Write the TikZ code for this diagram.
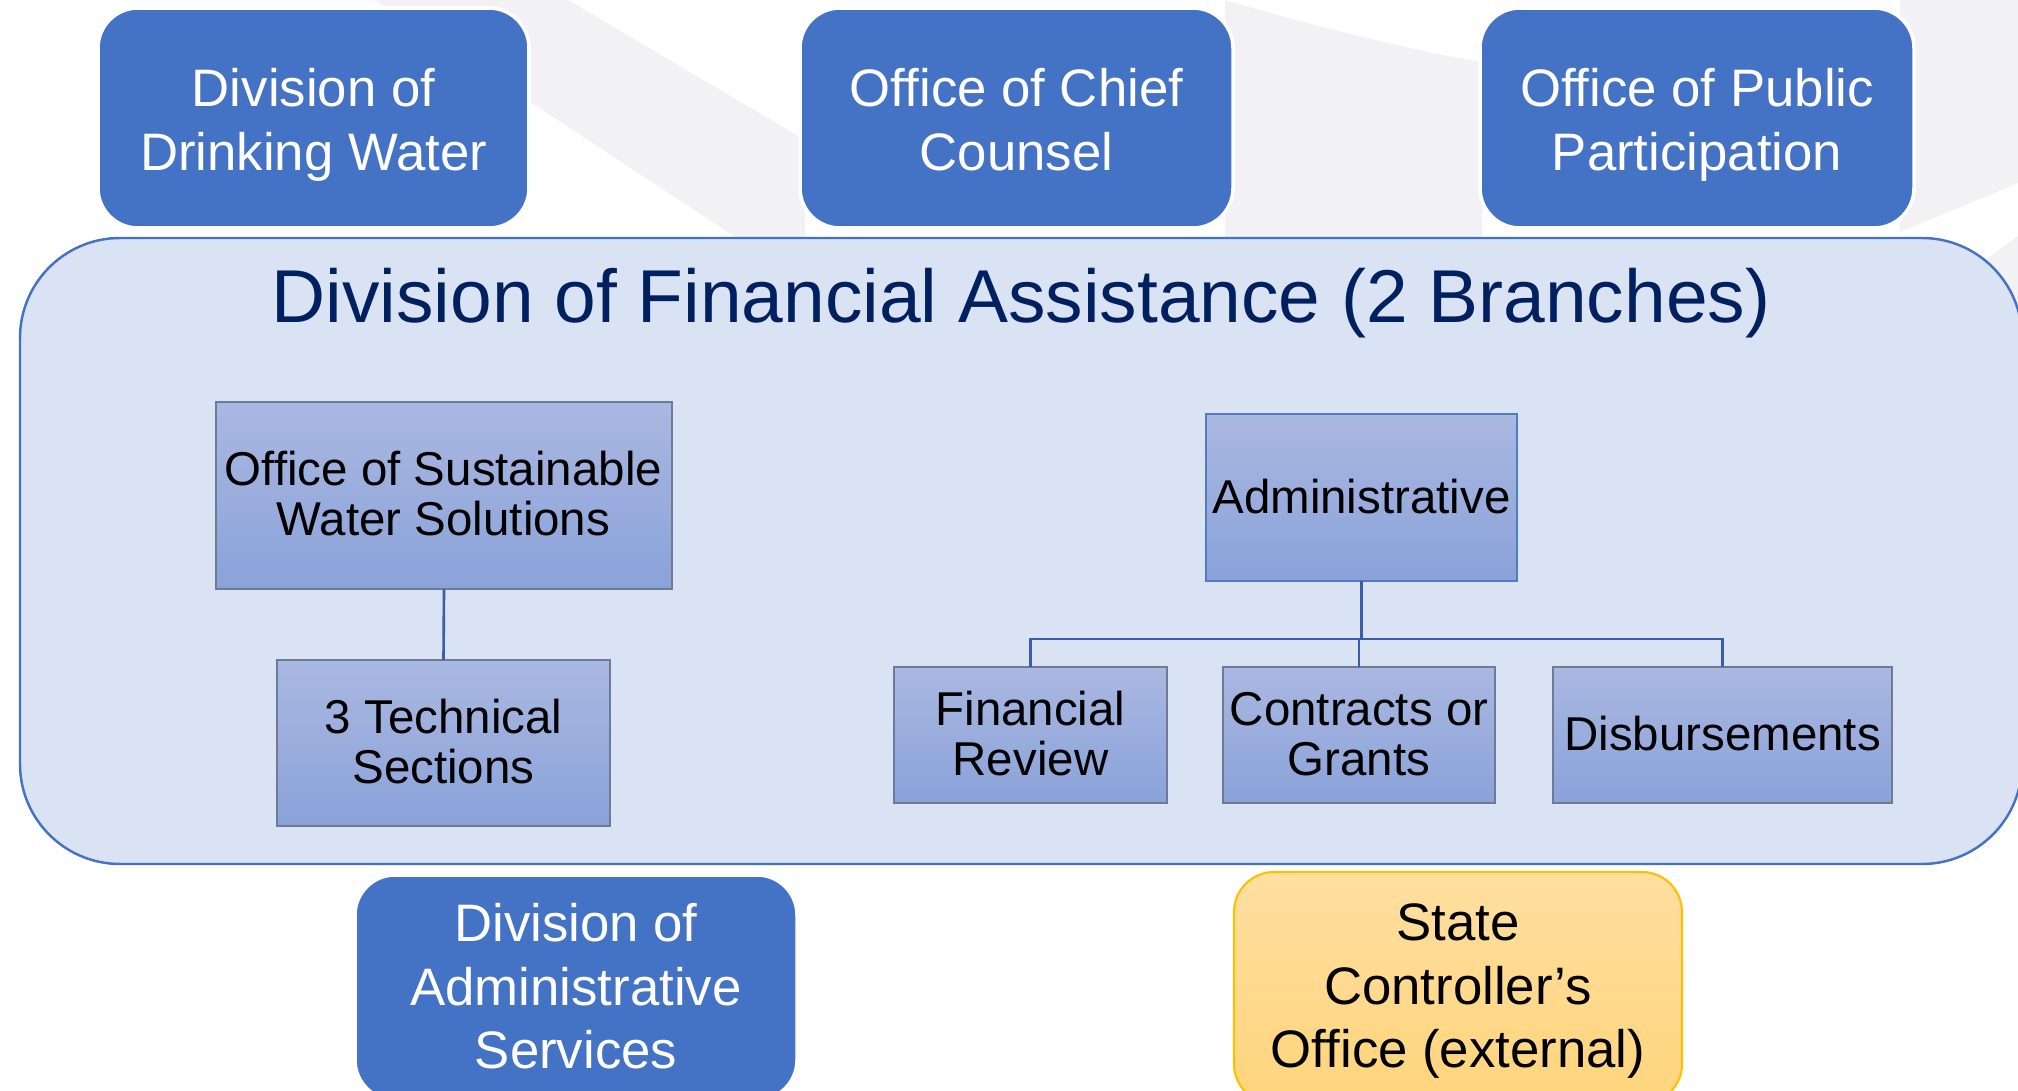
\documentclass[tikz,border=0pt]{standalone}
\usepackage{fontspec}
\setmainfont{Liberation Sans}
\usetikzlibrary{fit}
\definecolor{boxblue}{HTML}{4472C4}
\definecolor{bigfill}{HTML}{DAE3F3}
\definecolor{navy}{HTML}{002060}
\definecolor{innertop}{HTML}{AAB8E1}
\definecolor{innerbot}{HTML}{8AA2D9}
\definecolor{innerline}{HTML}{6E7B96}
\definecolor{adminline}{HTML}{4F7BCB}
\definecolor{connline}{HTML}{3C5DA6}
\definecolor{swoosh}{HTML}{F2F2F4}
\definecolor{goldtop}{HTML}{FFDFA0}
\definecolor{goldbot}{HTML}{FFD47C}
\definecolor{goldline}{HTML}{FFC000}
\begin{document}
\begin{tikzpicture}[x=0.01cm,y=-0.01cm,
  bluebox/.style={fill=boxblue, draw=white, line width=1pt, rounded corners=0.4cm, inner sep=0pt, outer sep=0pt},
  goldbox/.style={top color=goldtop, bottom color=goldbot, draw=goldline, line width=0.6pt, rounded corners=0.4cm, inner sep=0pt, outer sep=0pt},
  bigbox/.style={fill=bigfill, draw=boxblue, line width=0.7pt, rounded corners=1cm, inner sep=0pt, outer sep=0pt},
  innerbox/.style={top color=innertop, bottom color=innerbot, draw=innerline, line width=0.5pt, inner sep=0pt, outer sep=0pt},
  bigtxt/.style={text=white, font=\fontsize{15pt}{18.2pt}\selectfont, align=center, inner sep=0pt, anchor=north},
  bottxt/.style={font=\fontsize{15pt}{18.07pt}\selectfont, align=center, inner sep=0pt, anchor=north},
  smalltxt/.style={text=black, font=\fontsize{13.5pt}{14.2pt}\selectfont, align=center, inner sep=0pt},
  conn/.style={draw=connline, line width=0.75pt}
]
\path[use as bounding box] (0,0) rectangle (2018,1091);
\begin{scope}
\clip (0,0) rectangle (2018,1091);
% background swooshes
\fill[swoosh] (375,0) -- (568,0) -- (805,140) -- (805,238) -- (737,238) -- cycle;
\fill[swoosh] (1225,0) .. controls (1320,28) and (1420,52) .. (1482,62) -- (1482,238) -- (1225,238) -- cycle;
\fill[swoosh] (1900,0) -- (2018,0) -- (2018,183) -- (1900,232) -- cycle;
\fill[swoosh] (1930,300) -- (2018,236) -- (2018,420) -- (1930,420) -- cycle;

% top boxes
\node[bluebox, fit={(98,8) (529,228)}] (ddw) {};
\node[bigtxt] (ddwt) at (313.5,61.2) {\strut Division of\\Drinking Water};
\node[bluebox, fit={(800,8) (1233,228)}] (occ) {};
\node[bigtxt] (occt) at (1016.5,61.2) {\strut Office of Chief\\Counsel};
\node[bluebox, fit={(1480,8) (1914,228)}] (opp) {};
\node[bigtxt] (oppt) at (1697,61.2) {\strut Office of Public\\Participation};

% big box
\node[bigbox, fit={(20,238) (2022,864)}] (dfa) {};
\node[text=navy, font=\fontsize{21.3pt}{25pt}\selectfont, inner sep=0pt, anchor=base] (dfat) at (1021,322) {Division of Financial Assistance (2 Branches)};

% left branch
\node[innerbox, fit={(216,402) (672,589)}] (osws) {};
\node[smalltxt, anchor=north] (oswst) at (443.5,450) {\strut Office of Sustainable\\Water Solutions};
\node[innerbox, fit={(277,660) (610,826)}] (tts) {};
\node[smalltxt, anchor=north] (ttst) at (443.5,698) {\strut 3 Technical\\Sections};
\draw[conn] (osws.south) -- (tts.north);

% right branch
\node[innerbox, draw=adminline, fit={(1206,414) (1517,581)}] (admin) {};
\node[smalltxt, anchor=base] (admint) at (1361.5,513) {Administrative};
\node[innerbox, fit={(894,667) (1167,803)}] (fr) {};
\node[smalltxt, anchor=north] (frt) at (1030.5,690) {\strut Financial\\Review};
\node[innerbox, fit={(1223,667) (1495,803)}] (cg) {};
\node[smalltxt, anchor=north] (cgt) at (1359,690) {\strut Contracts or\\Grants};
\node[innerbox, fit={(1553,667) (1892,803)}] (dis) {};
\node[smalltxt, anchor=base] (dist) at (1722.5,750) {Disbursements};
\coordinate (bus) at (1361.5,639);
\draw[conn] (admin.south) -- (bus);
\draw[conn] (fr.north) |- (bus) -| (dis.north);
\draw[conn] (cg.north |- bus) -- (cg.north);

% bottom boxes
\node[bluebox, fit={(355,875) (797,1100)}] (das) {};
\node[bottxt, text=white] (dast) at (576,896.5) {\strut Division of\\Administrative\\Services};
\node[goldbox, fit={(1234,872) (1682,1104)}] (sco) {};
\node[bottxt, text=black] (scot) at (1458,895.5) {\strut State\\Controller’s\\Office (external)};
\end{scope}
\end{tikzpicture}
\end{document}
